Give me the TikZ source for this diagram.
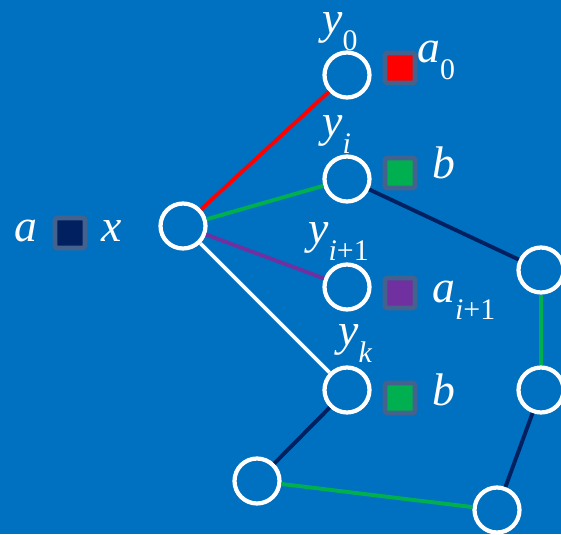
\documentclass[tikz,border=0pt]{standalone}
\usepackage{fontspec}
\setmainfont{Liberation Serif}
\definecolor{bgblue}{RGB}{0,112,192}
\definecolor{tagedge}{RGB}{68,98,142}
\definecolor{lnred}{RGB}{255,0,0}
\definecolor{lngreen}{RGB}{0,176,80}
\definecolor{lnpurple}{RGB}{112,48,160}
\definecolor{lnnavy}{RGB}{0,32,96}
\newcommand{\lowidx}[1]{\raisebox{-0.38em}{\fontsize{17}{19}\selectfont\upshape #1}}

\begin{document}
\begin{tikzpicture}[
    x=0.02cm, y=-0.02cm,
    vtx/.style={circle, draw=white, line width=2.4pt, minimum size=0.9cm, inner sep=0pt},
    tag/.style={rectangle, rounded corners=1pt, draw=tagedge, line width=2.8pt,
      minimum size=0.6cm, inner sep=0pt},
    lbl/.style={anchor=base west, inner sep=0pt, text=white,
      font=\fontsize{26}{30}\selectfont\itshape},
    edge/.style={line width=2.2pt}
  ]
    \fill[bgblue] (0,0) rectangle (561,534);
    \useasboundingbox (0,0) rectangle (561,534);

    % Vertices
    \node[vtx] (x)  at (183,226) {};
    \node[vtx] (y0) at (347,75)  {};
    \node[vtx] (yi) at (347,179) {};
    \node[vtx] (yn) at (347,287) {};
    \node[vtx] (yk) at (347,390) {};
    \node[vtx] (r1) at (541,270) {};
    \node[vtx] (r2) at (541,390) {};
    \node[vtx] (b2) at (497,510) {};
    \node[vtx] (b1) at (257,481) {};

    % Colour tags
    \node[tag, fill=lnnavy]   (tx)  at (70,233)  {};
    \node[tag, fill=lnred]    (t0)  at (400,68)  {};
    \node[tag, fill=lngreen]  (ti)  at (400,173) {};
    \node[tag, fill=lnpurple] (tn)  at (400,293) {};
    \node[tag, fill=lngreen]  (tk)  at (400,398) {};

    % Labels
    \node[lbl] (la)  at (14,241)  {a};
    \node[lbl] (lx)  at (101,241) {x};
    \node[lbl] (ly0) at (322,33)  {y\lowidx{0}};
    \node[lbl] (la0) at (417,62)  {a\lowidx{0}};
    \node[lbl] (lyi) at (322,136) {y\lowidx{\textit{i}}};
    \node[lbl] (lbi) at (432,178) {b};
    \node[lbl] (lyn) at (308,243) {y\lowidx{\textit{i}+1}};
    \node[lbl] (lan) at (432,302) {a\lowidx{\textit{i}+1}};
    \node[lbl] (lyk) at (338,345) {y\lowidx{\textit{k}}};
    \node[lbl] (lbk) at (432,405) {b};

    % Edges
    \draw[edge, lnred]    (x) -- (y0);
    \draw[edge, lngreen]  (x) -- (yi);
    \draw[edge, lnpurple] (x) -- (yn);
    \draw[edge, white]    (x) -- (yk);
    \draw[edge, lnnavy]   (yi) -- (r1);
    \draw[edge, lngreen]  (r1) -- (r2);
    \draw[edge, lnnavy]   (r2) -- (b2);
    \draw[edge, lngreen]  (b2) -- (b1);
    \draw[edge, lnnavy]   (b1) -- (yk);
\end{tikzpicture}
\end{document}
